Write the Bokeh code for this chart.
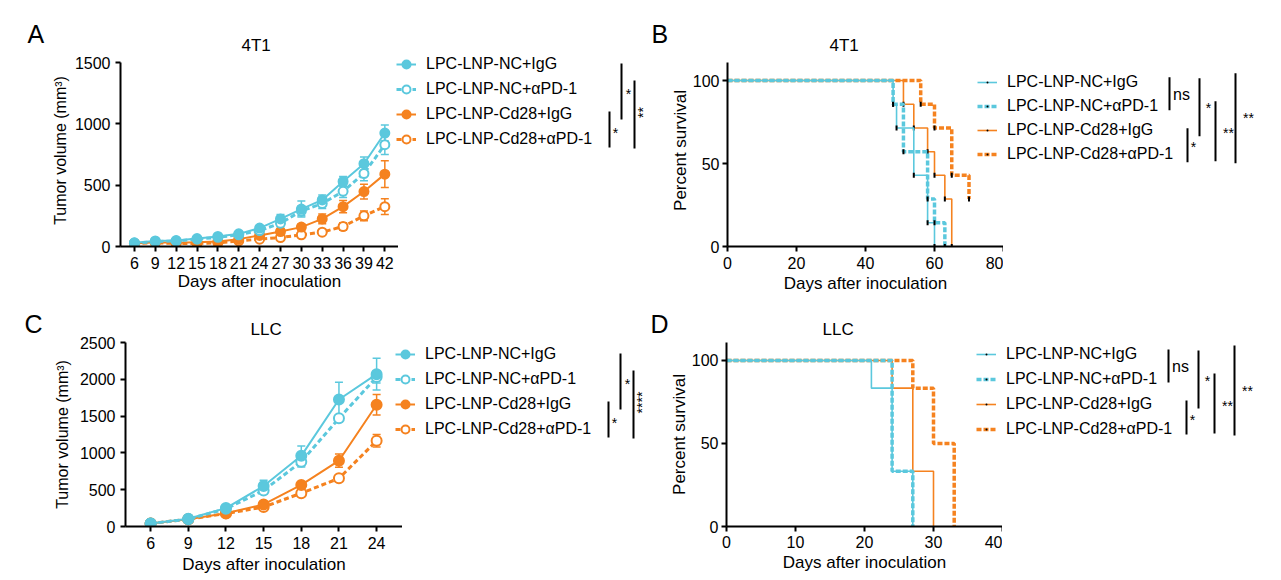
from math import pi
from bokeh.plotting import figure
from bokeh.layouts import column, row
from bokeh.models import (ColumnDataSource, Range1d, FixedTicker, Legend,
                          LegendItem, Label, Whisker, TeeHead)
from bokeh.embed import file_html
from bokeh.resources import INLINE

FONT = "Liberation Sans"
CYAN = "#5BC8DD"
ORANGE = "#F5821F"

groups = ["LPC-LNP-NC+IgG", "LPC-LNP-NC+αPD-1", "LPC-LNP-Cd28+IgG", "LPC-LNP-Cd28+αPD-1"]
colors = [CYAN, CYAN, ORANGE, ORANGE]
dashed = [False, True, False, True]

# A: 4T1 tumour volume, mean and error
days_4t1 = [6, 9, 12, 15, 18, 21, 24, 27, 30, 33, 36, 39, 42]
vol_4t1_nc_igg = [30, 45, 48, 65, 82, 103, 150, 225, 305, 380, 530, 675, 925]
err_4t1_nc_igg = [5, 6, 8, 10, 10, 15, 20, 35, 65, 40, 40, 55, 65]
vol_4t1_nc_pd1 = [28, 40, 45, 60, 75, 95, 130, 190, 290, 350, 450, 595, 830]
err_4t1_nc_pd1 = [5, 6, 8, 8, 10, 12, 18, 30, 40, 40, 50, 60, 80]
vol_4t1_cd28_igg = [25, 35, 30, 35, 40, 60, 90, 122, 158, 225, 325, 448, 590]
err_4t1_cd28_igg = [5, 6, 6, 8, 8, 10, 15, 20, 25, 40, 50, 60, 110]
vol_4t1_cd28_pd1 = [25, 30, 25, 25, 30, 45, 60, 73, 95, 117, 163, 250, 325]
err_4t1_cd28_pd1 = [4, 5, 5, 5, 6, 8, 10, 12, 15, 20, 30, 40, 65]

# C: LLC tumour volume, mean and error
days_llc = [6, 9, 12, 15, 18, 21, 24]
vol_llc_nc_igg = [40, 105, 250, 550, 960, 1725, 2070]
err_llc_nc_igg = [5, 10, 25, 80, 135, 235, 215]
vol_llc_nc_pd1 = [40, 100, 240, 490, 880, 1470, 2030]
err_llc_nc_pd1 = [5, 10, 20, 50, 70, 50, 80]
vol_llc_cd28_igg = [40, 100, 180, 300, 565, 894, 1655]
err_llc_cd28_igg = [5, 10, 20, 30, 40, 90, 140]
vol_llc_cd28_pd1 = [40, 100, 175, 265, 453, 654, 1165]
err_llc_cd28_pd1 = [5, 10, 15, 25, 30, 30, 85]

# B: 4T1 survival (day of event, percent surviving)
t_4t1_nc_igg = [0, 48, 49, 54, 58, 60]
s_4t1_nc_igg = [100, 85.7, 71.4, 42.9, 14.3, 0]
t_4t1_nc_pd1 = [0, 48, 51, 58, 60, 63]
s_4t1_nc_pd1 = [100, 85.7, 57.1, 28.6, 14.3, 0]
t_4t1_cd28_igg = [0, 51, 54, 58, 60, 63, 65]
s_4t1_cd28_igg = [100, 85.7, 71.4, 57.1, 42.9, 28.6, 0]
t_4t1_cd28_pd1 = [0, 56, 60, 65, 70]
s_4t1_cd28_pd1 = [100, 85.7, 71.4, 42.9, 28.6]

# D: LLC survival
t_llc_nc_igg = [0, 21, 24, 27]
s_llc_nc_igg = [100, 83.3, 33.3, 0]
t_llc_nc_pd1 = [0, 24, 27]
s_llc_nc_pd1 = [100, 33.3, 0]
t_llc_cd28_igg = [0, 24, 27, 30]
s_llc_cd28_igg = [100, 83.3, 33.3, 0]
t_llc_cd28_pd1 = [0, 27, 30, 33]
s_llc_cd28_pd1 = [100, 83.3, 50, 0]

# significance labels (comparisons are drawn beside the legends)
sig_4t1_tumor = ["*", "*", "**"]
sig_llc_tumor = ["*", "*", "****"]
sig_survival = ["ns", "*", "*", "**", "**"]

# bracket layout relative to (legend glyph left, first legend row centre)
tumor_bars = [(213, 47, 83), (225, -1, 55), (238, 16, 84)]
tumor_marks = [(219, 65, 0), (232, 26, 0), (246, 48, pi / 2)]
surv_bars = [(192, -5, 28), (222, -4, 54), (210, 46, 80), (238, 19, 79), (258, -9, 81)]
surv_marks = [(204, 12, 0), (231, 23, 0), (216, 62, 0), (251, 48, 0), (271, 33, 0)]

# rows: (top border, frame height, bottom border) shared by every figure of a row
ROW1 = (54, 192, 50)
ROW2 = (46, 184, 53)
R2 = 296  # page y where the second row starts


def base_fig(rowdims, width, bl, x_range, y_range, shift=0, axes=True):
    bt, fh, bb = rowdims
    kw = {} if axes else dict(x_axis_type=None, y_axis_type=None)
    p = figure(frame_width=width, frame_height=fh, min_border_left=bl, min_border_top=bt,
               min_border_right=0, min_border_bottom=bb, x_range=x_range, y_range=y_range,
               output_backend="svg", toolbar_location=None, **kw)
    p.outline_line_color = None
    p.border_fill_color = None
    if not axes:
        p.background_fill_color = None
    if shift:
        p.margin = (0, 0, 0, -shift)
    return p


def set_title(p, text, size, offset, standoff):
    p.title.text = text
    p.title.align = "left"
    p.title.offset = offset
    p.title.standoff = standoff
    p.title.text_font = FONT
    p.title.text_font_size = size
    p.title.text_font_style = "normal"
    p.title.text_color = "black"


def page_fig(rowdims, top, x0, x1, shift=0):
    # drawing area whose data units are page pixels (legends, brackets, letters)
    bt, fh, bb = rowdims
    return base_fig(rowdims, x1 - x0, 0, Range1d(x0, x1),
                    Range1d(top + bt + fh, top + bt), shift=shift, axes=False)


def style_axes(p, xticks, yticks, xlabel, ylabel, x_stand, xlab_stand, y_stand, ylab_stand,
               ysize):
    for ax in (p.xaxis[0], p.yaxis[0]):
        ax.axis_line_width = 2
        ax.axis_line_color = "black"
        ax.major_tick_line_width = 2
        ax.major_tick_line_color = "black"
        ax.major_tick_out = 5
        ax.major_tick_in = 0
        ax.minor_tick_line_color = None
        ax.major_label_text_font = FONT
        ax.major_label_text_font_size = "16px"
        ax.major_label_text_color = "black"
        ax.axis_label_text_font = FONT
        ax.axis_label_text_font_size = "17px"
        ax.axis_label_text_font_style = "normal"
        ax.axis_label_text_color = "black"
    p.grid.visible = False
    p.xaxis.ticker = FixedTicker(ticks=xticks)
    p.yaxis.ticker = FixedTicker(ticks=yticks)
    p.xaxis.axis_label = xlabel
    p.yaxis.axis_label = ylabel
    p.yaxis.axis_label_text_font_size = ysize
    p.xaxis.major_label_standoff = x_stand
    p.xaxis.axis_label_standoff = xlab_stand
    p.yaxis.major_label_standoff = y_stand
    p.yaxis.axis_label_standoff = ylab_stand


def add_legend(p, renderers, lx, y0, spacing):
    x0, y1 = p.x_range.start, p.y_range.start
    lh = 20
    height = 4 * lh + 3 * spacing
    top = y0 - lh / 2
    items = [LegendItem(label=g, renderers=r) for g, r in zip(groups, renderers)]
    leg = Legend(items=items, location=(lx - x0, y1 - top - height), padding=0, margin=0,
                 spacing=spacing, label_standoff=10, glyph_width=20, glyph_height=lh,
                 label_height=lh, border_line_color=None, background_fill_alpha=0,
                 label_text_font=FONT, label_text_font_size="16px", label_text_color="black")
    p.add_layout(leg)


def add_brackets(p, lx, y0, bars, marks, texts):
    x = [lx + b[0] for b in bars]
    ya = [y0 + b[1] for b in bars]
    yb = [y0 + b[2] for b in bars]
    p.segment(x0=x, y0=ya, x1=x, y1=yb, line_color="black", line_width=2)
    for (mx, my, ang), t in zip(marks, texts):
        star = t.startswith("*")
        tx, ty = lx + mx, y0 + my
        if star and not ang:
            ty += 3
        p.add_layout(Label(x=tx, y=ty, text=t, angle=ang, text_font=FONT,
                           text_font_size="14px" if star else "16px",
                           text_align="center", text_baseline="middle", text_color="black"))


def tumor_panel(p, days, vols, errs, size):
    for i in [3, 2, 1, 0]:
        c = colors[i]
        src = ColumnDataSource(dict(x=days, y=vols[i],
                                    lo=[v - e for v, e in zip(vols[i], errs[i])],
                                    hi=[v + e for v, e in zip(vols[i], errs[i])]))
        p.add_layout(Whisker(source=src, base="x", upper="hi", lower="lo", line_color=c,
                             line_width=1.5,
                             upper_head=TeeHead(size=8, line_color=c, line_width=1.5),
                             lower_head=TeeHead(size=8, line_color=c, line_width=1.5)))
        p.line("x", "y", source=src, line_color=c, line_width=3 if dashed[i] else 2,
               line_dash="5 3" if dashed[i] else "solid")
        p.scatter("x", "y", source=src, marker="circle", size=size,
                  fill_color="white" if dashed[i] else c, line_color=c, line_width=2)


def tumor_keys(p, days, vols):
    # legend glyphs: same series, they fall outside this page-pixel frame
    rend = []
    for i in range(4):
        c = colors[i]
        ln = p.line(days, vols[i], line_color=c, line_width=3 if dashed[i] else 2,
                    line_dash="5 3" if dashed[i] else "solid")
        sc = p.scatter(days, vols[i], marker="circle", fill_color="white" if dashed[i] else c,
                       line_color=c, line_width=2)
        rend.append([ln, sc])
    return rend


def survival_panel(p, times, survs, ticks):
    for i in [2, 3, 0, 1]:
        c = colors[i]
        p.step(times[i], survs[i], mode="after", line_color=c,
               line_width=3.5 if dashed[i] else 1.6,
               line_dash="5 2" if dashed[i] else "solid")
        if ticks:
            p.scatter(times[i][1:], survs[i][1:], marker="dash", angle=pi / 2, size=5,
                      line_color="black", line_width=2)


def survival_keys(p, times, survs):
    rend = []
    for i in range(4):
        ln = p.line(times[i], survs[i], line_color=colors[i],
                    line_width=3.5 if dashed[i] else 1.6,
                    line_dash="5 2" if dashed[i] else "solid")
        dot = p.scatter(times[i], survs[i], marker="dot", line_color="black",
                        fill_color="black")
        rend.append([ln, dot])
    return rend


vols_4t1 = [vol_4t1_nc_igg, vol_4t1_nc_pd1, vol_4t1_cd28_igg, vol_4t1_cd28_pd1]
errs_4t1 = [err_4t1_nc_igg, err_4t1_nc_pd1, err_4t1_cd28_igg, err_4t1_cd28_pd1]
vols_llc = [vol_llc_nc_igg, vol_llc_nc_pd1, vol_llc_cd28_igg, vol_llc_cd28_pd1]
errs_llc = [err_llc_nc_igg, err_llc_nc_pd1, err_llc_cd28_igg, err_llc_cd28_pd1]
times_4t1 = [t_4t1_nc_igg, t_4t1_nc_pd1, t_4t1_cd28_igg, t_4t1_cd28_pd1]
survs_4t1 = [s_4t1_nc_igg, s_4t1_nc_pd1, s_4t1_cd28_igg, s_4t1_cd28_pd1]
times_llc = [t_llc_nc_igg, t_llc_nc_pd1, t_llc_cd28_igg, t_llc_cd28_pd1]
survs_llc = [s_llc_nc_igg, s_llc_nc_pd1, s_llc_cd28_igg, s_llc_cd28_pd1]

# ---------------- top row: A and B
kA = page_fig(ROW1, 0, 0, 48)
set_title(kA, "A", "25px", 27, 14)

pA = base_fig(ROW1, 278, 71, Range1d(4, 4 + 278 / 6.956), Range1d(0, 192 * 1500 / 184))
set_title(pA, "4T1", "17px", 121, 0)
style_axes(pA, days_4t1, [0, 500, 1000, 1500], "Days after inoculation",
           "Tumor volume (mm³)", 5, 0, 5, 3, "16px")
pA.yaxis.bounds = (0, 1500)
tumor_panel(pA, days_4t1, vols_4t1, errs_4t1, 9)

gA = page_fig(ROW1, 0, 395, 650, shift=2)
add_legend(gA, tumor_keys(gA, days_4t1, vols_4t1), 395, 64, 5)
add_brackets(gA, 395, 64, tumor_bars, tumor_marks, sig_4t1_tumor)

kB = page_fig(ROW1, 0, 650, 670)
set_title(kB, "B", "25px", 0, 14)

pB = base_fig(ROW1, 276, 63, Range1d(0, 80), Range1d(0, 192 / 1.66), shift=7)
set_title(pB, "4T1", "17px", 102, 0)
style_axes(pB, [0, 20, 40, 60, 80], [0, 50, 100], "Days after inoculation",
           "Percent survival", 5, 2, 3, 0, "17px")
pB.yaxis.bounds = (0, 110.8)
survival_panel(pB, times_4t1, survs_4t1, True)

gB = page_fig(ROW1, 0, 976, 1280, shift=26)
add_legend(gB, survival_keys(gB, times_4t1, survs_4t1), 976, 81.7, 4)
add_brackets(gB, 976, 81.7, surv_bars, surv_marks, sig_survival)

# ---------------- bottom row: C and D
kC = page_fig(ROW2, R2, 0, 48)
set_title(kC, "C", "25px", 24, 10)

pC = base_fig(ROW2, 277, 77, Range1d(4, 4 + 277 / 12.556), Range1d(0, 2500))
set_title(pC, "LLC", "17px", 125, 8)
style_axes(pC, days_llc, [0, 500, 1000, 1500, 2000, 2500], "Days after inoculation",
           "Tumor volume (mm³)", 5, 3, 5, 6, "16px")
tumor_panel(pC, days_llc, vols_llc, errs_llc, 10)

gC = page_fig(ROW2, R2, 395, 650, shift=7)
add_legend(gC, tumor_keys(gC, days_llc, vols_llc), 395, 354, 5)
add_brackets(gC, 395, 354, tumor_bars, tumor_marks, sig_llc_tumor)

kD = page_fig(ROW2, R2, 650, 670)
set_title(kD, "D", "25px", 0, 10)

pD = base_fig(ROW2, 276, 63, Range1d(0, 40), Range1d(0, 110.8), shift=7)
set_title(pD, "LLC", "17px", 96, 8)
style_axes(pD, [0, 10, 20, 30, 40], [0, 50, 100], "Days after inoculation",
           "Percent survival", 4, 2, 3, 0, "17px")
survival_panel(pD, times_llc, survs_llc, False)

gD = page_fig(ROW2, R2, 976, 1280, shift=26)
add_legend(gD, survival_keys(gD, times_llc, survs_llc), 976, 354, 5)
add_brackets(gD, 976, 354, surv_bars, surv_marks, sig_survival)

layout = column(row(kA, pA, gA, kB, pB, gB), row(kC, pC, gC, kD, pD, gD))
open("out.html", "w").write(file_html(layout, INLINE))
